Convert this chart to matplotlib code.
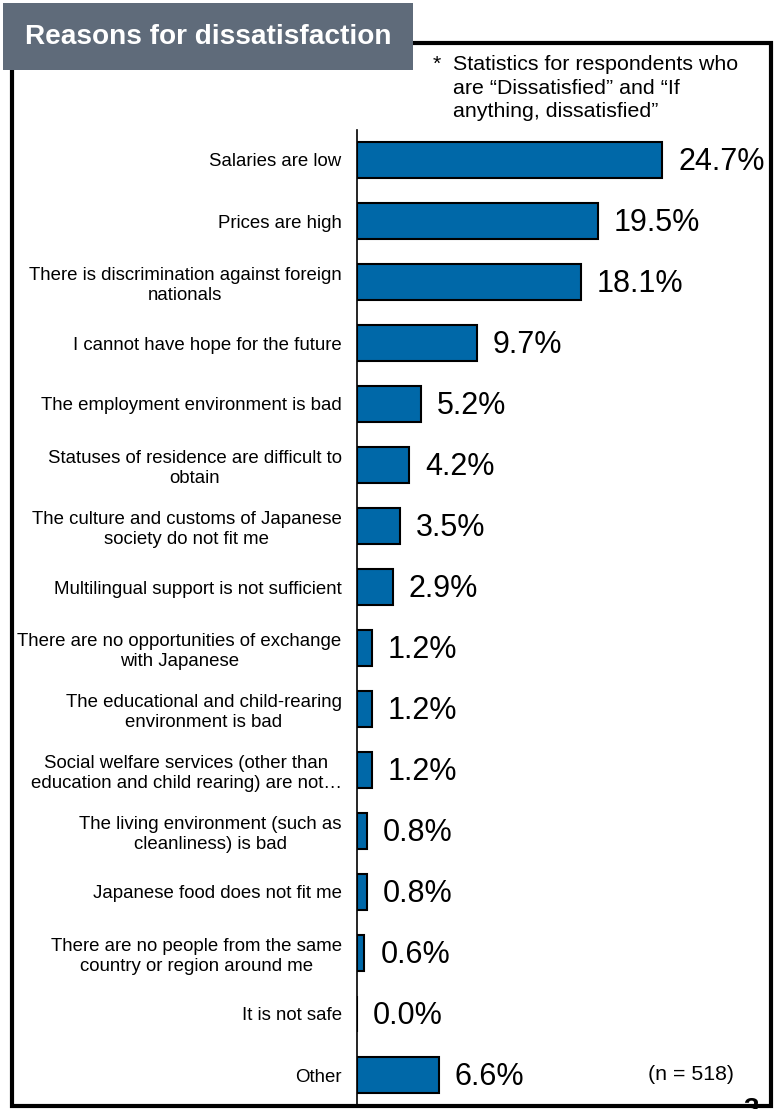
import matplotlib.pyplot as plt
from matplotlib.patches import Rectangle

plt.rcParams['font.family'] = ['Liberation Sans', 'DejaVu Sans']

# reasons and share of respondents (%)
reasons = [
    'Salaries are low',
    'Prices are high',
    'There is discrimination against foreign\nnationals',
    'I cannot have hope for the future',
    'The employment environment is bad',
    'Statuses of residence are difficult to\nobtain',
    'The culture and customs of Japanese\nsociety do not fit me',
    'Multilingual support is not sufficient',
    'There are no opportunities of exchange\nwith Japanese',
    'The educational and child-rearing\nenvironment is bad',
    'Social welfare services (other than\neducation and child rearing) are not…',
    'The living environment (such as\ncleanliness) is bad',
    'Japanese food does not fit me',
    'There are no people from the same\ncountry or region around me',
    'It is not safe',
    'Other',
]
shares = [24.7, 19.5, 18.1, 9.7, 5.2, 4.2, 3.5, 2.9, 1.2, 1.2, 1.2, 0.8, 0.8, 0.6, 0.0, 6.6]

W, H = 774, 1109
fig = plt.figure(figsize=(W / 100, H / 100), dpi=100)

def fx(px):
    return px / W

def fy(px):
    return 1 - px / H

# outer frame
fig.patches.append(Rectangle((fx(12), fy(1106)), fx(771) - fx(12), fy(42.5) - fy(1106),
                             transform=fig.transFigure, fill=False,
                             edgecolor='black', linewidth=3, zorder=1))

# title box
fig.patches.append(Rectangle((fx(3), fy(70)), fx(413) - fx(3), fy(3) - fy(70),
                             transform=fig.transFigure, facecolor='#5f6b7a',
                             edgecolor='none', zorder=2))
fig.text(fx(25), fy(37), 'Reasons for dissatisfaction', color='white',
         fontsize=20.2, fontweight='bold', va='center', ha='left', zorder=3)

fig.text(fx(433), fy(55), '*', fontsize=15.4, va='top', ha='left')
fig.text(fx(453), fy(55),
         'Statistics for respondents who\nare \u201cDissatisfied\u201d and \u201cIf\nanything, dissatisfied\u201d',
         fontsize=15.4, va='top', ha='left', linespacing=1.3)

ax = fig.add_axes([fx(357), fy(1105.5), fx(771) - fx(357), fy(129.5) - fy(1105.5)])
ax.patch.set_alpha(0)
y = list(range(len(reasons)))
ax.barh(y, shares, height=0.58, color='#0068a8', edgecolor='black', linewidth=1.5)
ax.set_ylim(len(reasons) - 0.5, -0.5)
ax.set_xlim(0, 33.5)

for yi, v in zip(y, shares):
    ax.annotate(f'{v:.1f}%', (v, yi), xytext=(16, -2), textcoords='offset pixels',
                fontsize=22, va='center', ha='left')

ax.set_yticks(y)
ax.set_yticklabels(reasons, fontsize=13.4, linespacing=1.2, multialignment='center')
ax.tick_params(axis='y', length=0, pad=11)
ax.set_xticks([])
for side in ['top', 'right', 'bottom']:
    ax.spines[side].set_visible(False)
ax.spines['left'].set_linewidth(1.2)

fig.text(fx(648), fy(1075), '(n = 518)', fontsize=15.4, va='center', ha='left')

# page number peeking in at the bottom edge
fig.text(fx(751), fy(1097), '3', fontsize=20, fontweight='bold', va='top', ha='center')

fig.savefig('out.png', dpi=100)
